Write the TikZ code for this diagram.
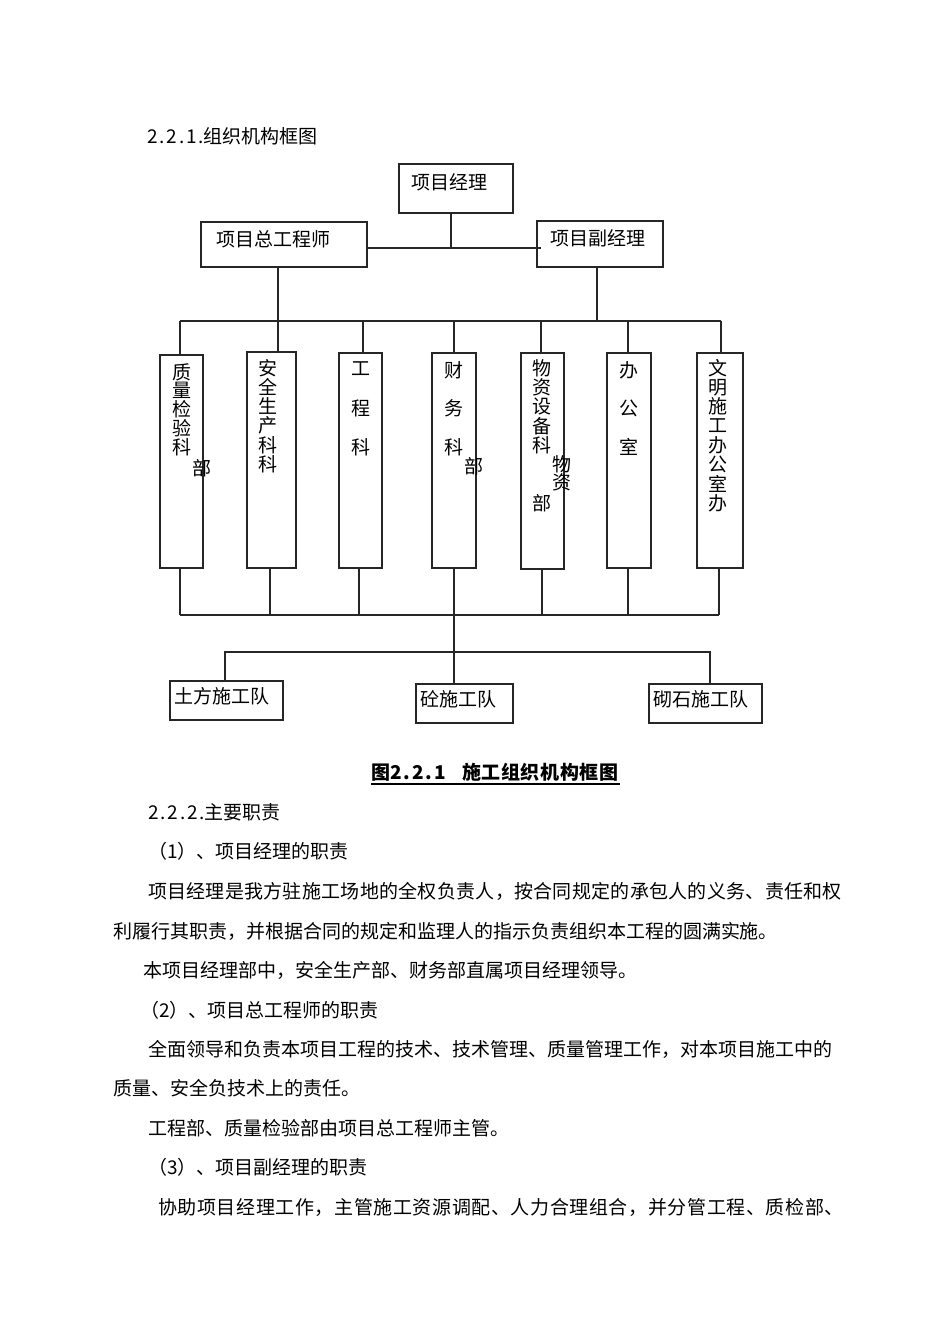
\documentclass[tikz,border=0pt]{standalone}
\usepackage{fontspec}
\setmainfont{Noto Sans CJK SC}
\newfontfamily\wideA[LetterSpace=3.5]{Noto Sans CJK SC}
\newfontfamily\wideL[LetterSpace=1.5]{Noto Sans CJK SC}
\newfontfamily\wideB[LetterSpace=3.2]{Noto Sans CJK SC}
\newfontfamily\numsp[LetterSpace=10]{Noto Sans CJK SC}
\begin{document}
\begin{tikzpicture}[x=1pt,y=-1pt,
  box/.style={draw=black!85,line width=1.3pt,inner sep=0pt,outer sep=0pt},
  conn/.style={draw=black!85,line width=1.2pt},
  ul/.style={draw=black,line width=1.7pt},
  txt/.style={inner sep=0pt,outer sep=0pt,anchor=base west,font=\fontsize{19}{19}\selectfont},
  ch/.style={inner sep=0pt,outer sep=0pt,font=\fontsize{19}{19}\selectfont}]
\useasboundingbox[fill=white] (0,0) rectangle (950,1344);

% heading
\node[txt] (h1) at (147,143) {{\numsp 2.2.1.}组织机构框图};

% top boxes
\node[box,minimum width=114pt,minimum height=49pt] (pm) at (456,188.5) {};
\node[box,minimum width=166pt,minimum height=45pt] (ce) at (284,244.5) {};
\node[box,minimum width=126pt,minimum height=46pt] (dpm) at (600,244) {};
\node[txt] (pmt) at (411,189) {项目经理};
\node[txt] (cet) at (216,246) {项目总工程师};
\node[txt] (dpmt) at (550,245) {项目副经理};

% department boxes
\node[box,minimum width=43pt,minimum height=213pt] (d1) at (181.5,461.5) {};
\node[box,minimum width=49pt,minimum height=216pt] (d2) at (271.5,460) {};
\node[box,minimum width=43pt,minimum height=215pt] (d3) at (360.5,460.5) {};
\node[box,minimum width=44pt,minimum height=215pt] (d4) at (454,460.5) {};
\node[box,minimum width=43pt,minimum height=216pt] (d5) at (542.5,461) {};
\node[box,minimum width=44pt,minimum height=215pt] (d6) at (629,460.5) {};
\node[box,minimum width=46pt,minimum height=215pt] (d7) at (720,460.5) {};

% vertical labels
\foreach \c [count=\i from 0] in {质,量,检,验,科}
  \node[ch] (d1c\i) at (182,{372+18.8*\i}) {\c};
\node[ch] (d1x) at (202,468) {部};
\foreach \c [count=\i from 0] in {安,全,生,产,科,科}
  \node[ch] (d2c\i) at (268,{368+19.2*\i}) {\c};
\foreach \c [count=\i from 0] in {工,程,科}
  \node[ch] (d3c\i) at (361,{369+39*\i}) {\c};
\foreach \c [count=\i from 0] in {财,务,科}
  \node[ch] (d4c\i) at (454,{370+38.5*\i}) {\c};
\node[ch] (d4x) at (474,466) {部};
\foreach \c [count=\i from 0] in {物,资,设,备,科}
  \node[ch] (d5c\i) at (542,{368+19.3*\i}) {\c};
\node[ch] (d5x) at (562,464) {物};
\node[ch] (d5y) at (562,482) {资};
\node[ch] (d5z) at (542,503) {部};
\foreach \c [count=\i from 0] in {办,公,室}
  \node[ch] (d6c\i) at (629,{370+38.5*\i}) {\c};
\foreach \c [count=\i from 0] in {文,明,施,工,办,公,室,办}
  \node[ch] (d7c\i) at (718,{368+19.3*\i}) {\c};

% team boxes
\node[box,minimum width=113pt,minimum height=39pt] (t1) at (226.5,700.5) {};
\node[box,minimum width=97pt,minimum height=39pt] (t2) at (464.5,703.5) {};
\node[box,minimum width=113pt,minimum height=39pt] (t3) at (705.5,703.5) {};
\node[txt] (t1t) at (174,703) {土方施工队};
\node[txt] (t2t) at (420,706) {砼施工队};
\node[txt] (t3t) at (653,706) {砌石施工队};

% connectors: top level
\coordinate (j0) at (451,248);
\draw[conn] (pm.south -| j0) -- (j0);
\draw[conn] (ce.east |- j0) -- ([xshift=4pt]dpm.west |- j0);

% top bus
\coordinate (bt) at (180,321);
\coordinate (btr) at (721,321);
\draw[conn] (bt) -- (btr);
\draw[conn] ([xshift=-6pt]ce.south) -- ([xshift=6.5pt]d2.north);
\draw[conn] ([xshift=-3pt]dpm.south) -- ([xshift=-3pt]dpm.south |- bt);
\draw[conn] ([xshift=-1.5pt]d1.north) -- ([xshift=-1.5pt]d1.north |- bt);
\draw[conn] ([xshift=2.5pt]d3.north) -- ([xshift=2.5pt]d3.north |- bt);
\draw[conn] (d4.north) -- (d4.north |- bt);
\draw[conn] ([xshift=-1.5pt]d5.north) -- ([xshift=-1.5pt]d5.north |- bt);
\draw[conn] ([xshift=-1pt]d6.north) -- ([xshift=-1pt]d6.north |- bt);
\draw[conn] ([xshift=1pt]d7.north) -- ([xshift=1pt]d7.north |- bt);

% bottom bus
\coordinate (bb) at (180,615);
\coordinate (bbr) at (719,615);
\draw[conn] (bb) -- (bbr);
\draw[conn] ([xshift=-1.5pt]d1.south) -- ([xshift=-1.5pt]d1.south |- bb);
\draw[conn] ([xshift=-1.5pt]d2.south) -- ([xshift=-1.5pt]d2.south |- bb);
\draw[conn] ([xshift=-1.5pt]d3.south) -- ([xshift=-1.5pt]d3.south |- bb);
\draw[conn] (d4.south) -- ([xshift=-10.5pt]t2.north);
\draw[conn] ([xshift=-0.5pt]d5.south) -- ([xshift=-0.5pt]d5.south |- bb);
\draw[conn] ([xshift=-1pt]d6.south) -- ([xshift=-1pt]d6.south |- bb);
\draw[conn] ([xshift=-1pt]d7.south) -- ([xshift=-1pt]d7.south |- bb);

% lower bus to teams
\coordinate (lb) at (225,652);
\coordinate (lbr) at (710,652);
\draw[conn] ([xshift=-1.5pt]t1.north) -- (lb) -- (lbr) -- ([xshift=4.5pt]t3.north);

% caption
\node[txt,font=\fontsize{19}{19}\selectfont\bfseries] (cap1) at (371,779) {图{\numsp 2.2.1}};
\node[txt,font=\fontsize{19}{19}\selectfont\bfseries\wideA] (cap2) at (462,779) {施工组织机构框图};
\draw[ul] (371,784) -- (620,784);

% body text
\node[txt] (p0) at (148,819) {{\numsp 2.2.2.}主要职责};
\node[txt] (p1) at (148,858) {（1）、项目经理的职责};
\node[txt,font=\fontsize{19}{19}\selectfont\wideL] (p2) at (148,898) {项目经理是我方驻施工场地的全权负责人，按合同规定的承包人的义务、责任和权};
\node[txt] (p3) at (113,938) {利履行其职责，并根据合同的规定和监理人的指示负责组织本工程的圆满实施。};
\node[txt] (p4) at (143,977) {本项目经理部中，安全生产部、财务部直属项目经理领导。};
\node[txt] (p5) at (140,1017) {（2）、项目总工程师的职责};
\node[txt] (p6) at (148,1056) {全面领导和负责本项目工程的技术、技术管理、质量管理工作，对本项目施工中的};
\node[txt] (p7) at (113,1095) {质量、安全负技术上的责任。};
\node[txt] (p8) at (148,1135) {工程部、质量检验部由项目总工程师主管。};
\node[txt] (p9) at (148,1174) {（3）、项目副经理的职责};
\node[txt,font=\fontsize{19}{19}\selectfont\wideB] (p10) at (158,1214) {协助项目经理工作，主管施工资源调配、人力合理组合，并分管工程、质检部、};
\end{tikzpicture}
\end{document}
